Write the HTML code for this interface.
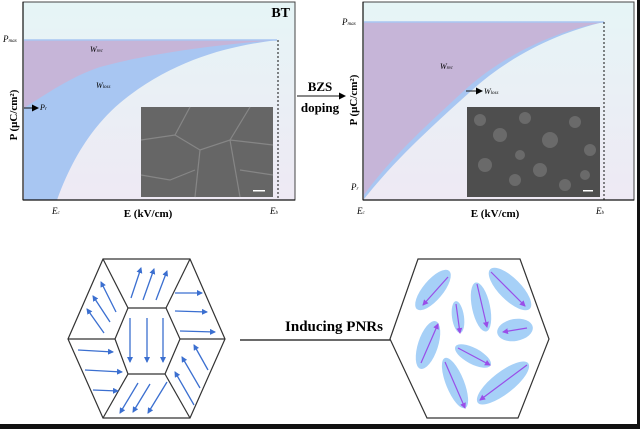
<!DOCTYPE html>
<html><head><meta charset="utf-8"><style>
html,body{margin:0;padding:0;background:#fff}
svg{display:block}
text{font-family:"Liberation Serif",serif}
</style></head><body>
<svg width="640" height="429" viewBox="0 0 640 429" xmlns="http://www.w3.org/2000/svg">
<defs>
<linearGradient id="bg" x1="0" y1="0" x2="0" y2="1">
<stop offset="0" stop-color="#e6f5f6"/><stop offset="1" stop-color="#eee9f4"/>
</linearGradient>
<marker id="ab" markerWidth="6" markerHeight="6" refX="5" refY="3" orient="auto" markerUnits="userSpaceOnUse"><path d="M0,0 L6,3 L0,6 z" fill="#3b6fd0"/></marker>
<marker id="ap" markerWidth="6" markerHeight="6" refX="5" refY="3" orient="auto" markerUnits="userSpaceOnUse"><path d="M0,0 L6,3 L0,6 z" fill="#9a4ee8"/></marker>
<marker id="ak" markerWidth="7" markerHeight="7" refX="6" refY="3.5" orient="auto" markerUnits="userSpaceOnUse"><path d="M0,0 L7,3.5 L0,7 z" fill="#000"/></marker>
</defs>
<rect width="640" height="429" fill="#fff"/>
<rect x="637" y="0" width="3" height="429" fill="#111"/>
<rect x="0" y="424" width="640" height="5" fill="#111"/>

<!-- Left plot -->
<rect x="23" y="2" width="272" height="198" fill="url(#bg)" stroke="#444" stroke-width="1"/>
<path d="M24,40 L277,40 C230,46 180,58 130,95 C100,117 75,150 57,200 L24,200 Z" fill="#a8c6f2"/>
<path d="M24,40 L277,40 C200,46 140,56 100,67 C70,77 45,95 24,108 Z" fill="#c6b5d8"/>
<line x1="24" y1="40" x2="277" y2="40" stroke="#a8c6f2" stroke-width="1.5"/>
<rect x="141" y="107" width="132" height="90" fill="#666"/>
<path d="M141,140 L175,135 L200,150 L230,140 L273,145 M175,135 L190,107 M200,150 L195,197 M230,140 L250,107 M230,140 L240,197 M141,175 L170,180 L195,170 M240,170 L273,175" stroke="#868686" stroke-width="1.2" fill="none"/>
<rect x="253" y="190" width="12" height="1.5" fill="#fff"/>
<line x1="278" y1="40" x2="278" y2="200" stroke="#111" stroke-dasharray="2,2"/>
<line x1="23" y1="200" x2="295" y2="200" stroke="#111" stroke-width="1.2"/>
<line x1="23" y1="2" x2="23" y2="200" stroke="#111" stroke-width="1.2"/>
<text x="290" y="17" font-size="14" font-weight="bold" text-anchor="end">BT</text>
<text x="3" y="42" font-size="9" font-style="italic">P<tspan font-size="5">max</tspan></text>
<text x="90" y="52" font-size="8" font-style="italic">W<tspan font-size="5">rec</tspan></text>
<text x="96" y="88" font-size="8" font-style="italic">W<tspan font-size="5">loss</tspan></text>
<line x1="24" y1="108" x2="38" y2="108" stroke="#111" marker-end="url(#ak)"/>
<text x="40" y="110" font-size="8" font-style="italic">P<tspan font-size="5">r</tspan></text>
<text x="17" y="115" font-size="11" font-weight="bold" transform="rotate(-90 17 115)" text-anchor="middle">P (μC/cm²)</text>
<text x="52" y="214" font-size="9" font-style="italic">E<tspan font-size="5">c</tspan></text>
<text x="270" y="214" font-size="9" font-style="italic">E<tspan font-size="5">b</tspan></text>
<text x="148" y="217" font-size="11" font-weight="bold" text-anchor="middle">E (kV/cm)</text>

<!-- BZS arrow -->
<text x="320" y="91" font-size="13" font-weight="bold" text-anchor="middle">BZS</text>
<line x1="297" y1="96" x2="345" y2="96" stroke="#111" marker-end="url(#ak)"/>
<text x="320" y="112" font-size="13" font-weight="bold" text-anchor="middle">doping</text>

<!-- Right plot -->
<rect x="363" y="2" width="271" height="198" fill="url(#bg)" stroke="#444" stroke-width="1"/>
<path d="M364,22 L604,22 C560,32 510,55 470,92 C430,128 395,160 364,199 Z" fill="#a8c6f2"/>
<path d="M364,22 L604,22 C560,30 508,52 467,88 C428,124 392,156 364,195 Z" fill="#c6b5d8"/>
<line x1="364" y1="22" x2="604" y2="22" stroke="#a8c6f2" stroke-width="1.5"/>
<rect x="467" y="107" width="133" height="90" fill="#4e4e4e"/>
<g fill="#6a6a6a">
<circle cx="480" cy="120" r="6"/><circle cx="500" cy="135" r="7"/><circle cx="525" cy="118" r="6"/><circle cx="550" cy="140" r="8"/><circle cx="575" cy="122" r="6"/><circle cx="590" cy="150" r="6"/><circle cx="485" cy="165" r="7"/><circle cx="515" cy="180" r="6"/><circle cx="540" cy="170" r="7"/><circle cx="565" cy="185" r="6"/><circle cx="585" cy="175" r="5"/><circle cx="520" cy="155" r="5"/>
</g>
<rect x="583" y="190" width="10" height="1.5" fill="#fff"/>
<line x1="604" y1="22" x2="604" y2="200" stroke="#111" stroke-dasharray="2,2"/>
<line x1="363" y1="200" x2="634" y2="200" stroke="#111" stroke-width="1.2"/>
<line x1="363" y1="2" x2="363" y2="200" stroke="#111" stroke-width="1.2"/>
<text x="342" y="25" font-size="9" font-style="italic">P<tspan font-size="5">max</tspan></text>
<text x="440" y="69" font-size="8" font-style="italic">W<tspan font-size="5">rec</tspan></text>
<line x1="466" y1="91" x2="482" y2="91" stroke="#111" marker-end="url(#ak)"/>
<text x="484" y="94" font-size="8" font-style="italic">W<tspan font-size="5">loss</tspan></text>
<text x="351" y="190" font-size="9" font-style="italic">P<tspan font-size="5">r</tspan></text>
<text x="357" y="214" font-size="9" font-style="italic">E<tspan font-size="5">c</tspan></text>
<text x="596" y="214" font-size="9" font-style="italic">E<tspan font-size="5">b</tspan></text>
<text x="357" y="100" font-size="11" font-weight="bold" transform="rotate(-90 357 100)" text-anchor="middle">P (μC/cm²)</text>
<text x="495" y="217" font-size="11" font-weight="bold" text-anchor="middle">E (kV/cm)</text>

<!-- Left hexagon -->
<g stroke="#333" stroke-width="1.2" fill="none">
<polygon points="68,339 103,259 190,259 225,339 190,418 103,418" fill="#fff"/>
<polygon points="115,339 128,308 166,308 180,339 165,374 128,374"/>
<line x1="103" y1="259" x2="128" y2="308"/><line x1="190" y1="259" x2="166" y2="308"/>
<line x1="68" y1="339" x2="115" y2="339"/><line x1="225" y1="339" x2="180" y2="339"/>
<line x1="103" y1="418" x2="128" y2="374"/><line x1="190" y1="418" x2="165" y2="374"/>
</g>
<g stroke="#3b6fd0" stroke-width="1.3" marker-end="url(#ab)">
<line x1="131" y1="298" x2="141" y2="268"/><line x1="143" y1="300" x2="154" y2="269"/><line x1="156" y1="300" x2="167" y2="271"/>
<line x1="116" y1="312" x2="101" y2="282"/><line x1="110" y1="322" x2="93" y2="296"/><line x1="104" y1="333" x2="87" y2="309"/>
<line x1="175" y1="293" x2="202" y2="293"/><line x1="175" y1="311" x2="207" y2="312"/><line x1="180" y1="331" x2="215" y2="332"/>
<line x1="130" y1="318" x2="130" y2="362"/><line x1="147" y1="318" x2="147" y2="362"/><line x1="163" y1="318" x2="163" y2="362"/>
<line x1="78" y1="350" x2="113" y2="352"/><line x1="85" y1="370" x2="122" y2="372"/><line x1="93" y1="390" x2="118" y2="391"/>
<line x1="208" y1="370" x2="194" y2="345"/><line x1="200" y1="388" x2="182" y2="357"/><line x1="194" y1="405" x2="175" y2="372"/>
<line x1="138" y1="383" x2="120" y2="413"/><line x1="150" y1="384" x2="133" y2="412"/><line x1="167" y1="382" x2="148" y2="413"/>
</g>

<!-- Inducing PNRs -->
<text x="334" y="331" font-size="15" font-weight="bold" text-anchor="middle">Inducing PNRs</text>
<line x1="240" y1="340" x2="408" y2="340" stroke="#111" stroke-width="1.2" marker-end="url(#ak)"/>

<!-- Right hexagon -->
<polygon points="390,339 418,259 520,259 549,339 518,418 427,418" fill="#fff" stroke="#333" stroke-width="1.2"/>
<g fill="#a6d0f7">
<ellipse cx="433" cy="290" rx="25" ry="10" transform="rotate(-50 433 290)"/>
<ellipse cx="510" cy="289" rx="28" ry="11" transform="rotate(45 510 289)"/>
<ellipse cx="481" cy="307" rx="25" ry="9" transform="rotate(78 481 307)"/>
<ellipse cx="458" cy="317" rx="16" ry="6" transform="rotate(82 458 317)"/>
<ellipse cx="515" cy="330" rx="18" ry="11" transform="rotate(-10 515 330)"/>
<ellipse cx="428" cy="345" rx="25" ry="10" transform="rotate(-72 428 345)"/>
<ellipse cx="473" cy="356" rx="20" ry="8" transform="rotate(28 473 356)"/>
<ellipse cx="455" cy="383" rx="27" ry="9" transform="rotate(68 455 383)"/>
<ellipse cx="503" cy="383" rx="32" ry="11" transform="rotate(-38 503 383)"/>
</g>
<g stroke="#9a4ee8" stroke-width="1.2" marker-end="url(#ap)">
<line x1="448" y1="277" x2="423" y2="305"/>
<line x1="491" y1="272" x2="525" y2="306"/>
<line x1="477" y1="284" x2="487" y2="327"/>
<line x1="456" y1="304" x2="460" y2="333"/>
<line x1="527" y1="328" x2="503" y2="332"/>
<line x1="421" y1="363" x2="438" y2="324"/>
<line x1="458" y1="348" x2="490" y2="365"/>
<line x1="445" y1="362" x2="465" y2="408"/>
<line x1="527" y1="365" x2="480" y2="400"/>
</g>
</svg>
</body></html>
